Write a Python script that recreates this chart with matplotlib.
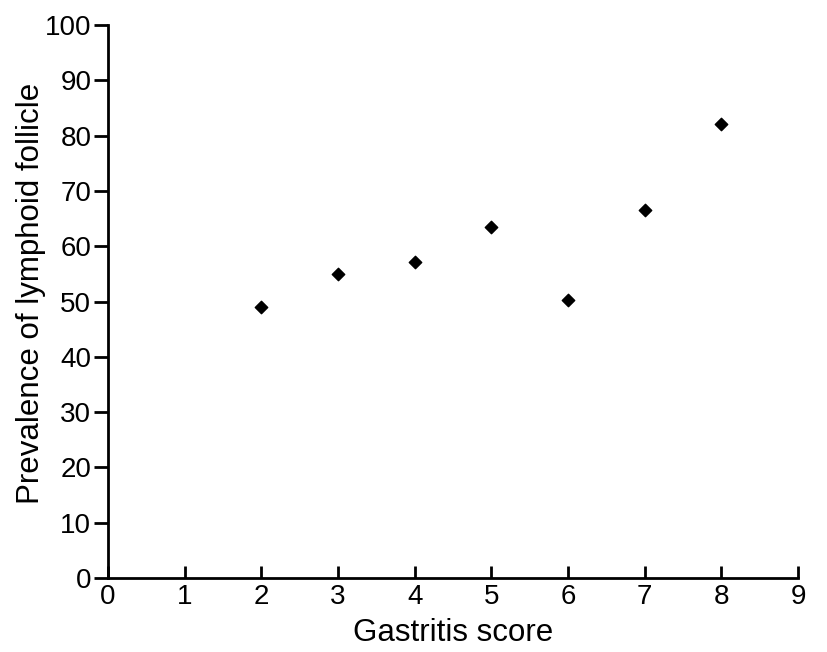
import matplotlib.pyplot as plt

plt.rcParams['font.family'] = ['Liberation Sans', 'DejaVu Sans']

gastritis_score = [2, 3, 4, 5, 6, 7, 8]
prevalence = [49, 55, 57.2, 63.5, 50.2, 66.6, 82.1]
x_ticks = list(range(0, 10))
y_ticks = list(range(0, 101, 10))

fig = plt.figure(figsize=(8.28, 6.52), dpi=100)
ax = fig.add_axes([0.1304, 0.1135, 0.8334, 0.848])

ax.scatter(gastritis_score, prevalence, marker='D', s=40, color='black', zorder=3)

ax.set_xlim(0, 9)
ax.set_ylim(0, 100)
ax.set_xticks(x_ticks)
ax.set_yticks(y_ticks)
ax.tick_params(axis='x', direction='in', length=9, width=2, labelsize=20, pad=4)
ax.tick_params(axis='y', direction='out', length=10, width=2, labelsize=20, pad=2)

for side in ['top', 'right']:
    ax.spines[side].set_visible(False)
for side in ['left', 'bottom']:
    ax.spines[side].set_linewidth(2)

ax.set_xlabel('Gastritis score', fontsize=22.5, labelpad=6)
ax.set_ylabel('Prevalence of lymphoid follicle', fontsize=22.5)
ax.yaxis.set_label_coords(-0.09, 0.515)

fig.savefig('out.png', dpi=100)
